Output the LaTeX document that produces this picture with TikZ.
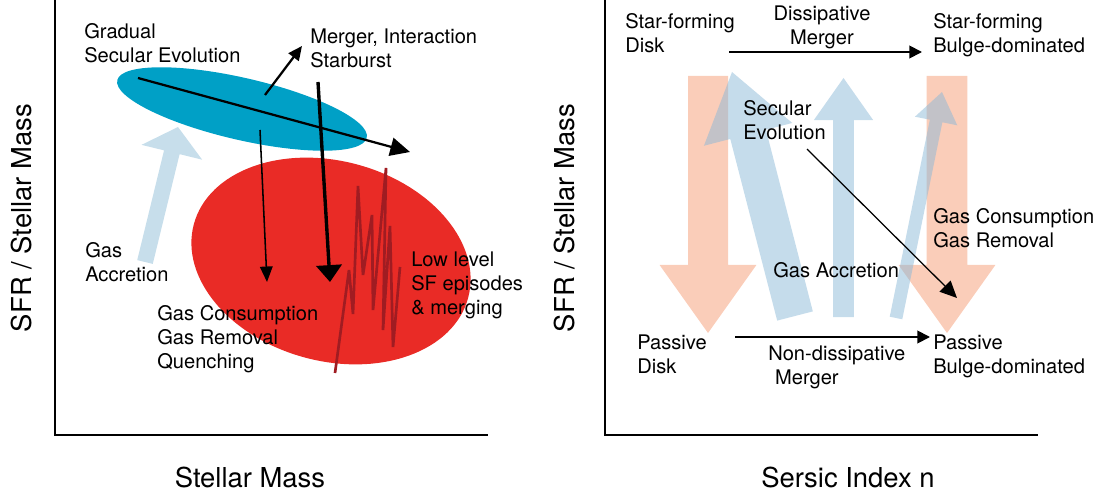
\documentclass[tikz,border=0pt]{standalone}
\usepackage{fontspec}
\setmainfont{TeX Gyre Heros}
\usetikzlibrary{calc}
\usetikzlibrary{arrows.meta}

\definecolor{diskblue}{RGB}{0,160,198}
\definecolor{passred}{RGB}{233,43,38}
\definecolor{burstred}{RGB}{160,28,34}
\definecolor{inflow}{RGB}{199,222,235}
\definecolor{fadeblue}{RGB}{140,185,215}
\definecolor{fadesalmon}{RGB}{250,205,185}

% broad arrow: style, tail, tip, half shaft, half head, head length
\newcommand{\fatarrow}[6]{%
  \coordinate (fa base) at ($(#3)!#6!(#2)$);
  \fill[#1] ($(#2)!#4!90:(#3)$) -- ($(fa base)!#4!90:(#3)$) -- ($(fa base)!#5!90:(#3)$)
    -- (#3) -- ($(fa base)!#5!-90:(#3)$) -- ($(fa base)!#4!-90:(#3)$)
    -- ($(#2)!#4!-90:(#3)$) -- cycle;
}

\begin{document}
\begin{tikzpicture} [x=0.025cm, y=-0.025cm,
          lbl/.style = {font=\fontsize{14.3}{17}\selectfont, align=left, inner sep=0pt, anchor=north west},
          axislbl/.style = {font=\fontsize{19.5}{23}\selectfont, inner sep=0pt},
          axis/.style = {line width=0.8pt},
          track/.style = {-{Triangle[length=14pt,width=13pt]}, line width=1.6pt},
          thin track/.style = {-{Triangle[length=11pt,width=9pt]}, line width=1.1pt},
          merge/.style = {-{Triangle[length=9pt,width=9pt]}, line width=1.3pt}
          ]
  \useasboundingbox (0,0) rectangle (1102,498);

  % left panel: SFR / M versus stellar mass
  \draw[axis] (55,0) -- (55,435) -- (488,435);
  \node[axislbl] (mass) at (250,478) {Stellar Mass};
  \node[axislbl, rotate=90] (ssfr left) at (22,218) {SFR / Stellar Mass};

  \coordinate (inflow tail) at (145,262);
  \coordinate (inflow tip) at (178,127);
  \fatarrow{inflow}{inflow tail}{inflow tip}{0.2cm}{0.78cm}{0.65cm}

  \fill[passred, rotate around={-15:(331,261)}] (331,261) ellipse [x radius=142, y radius=100];
  \fill[diskblue, rotate around={-13:(242,109)}] (242,109) ellipse [x radius=128, y radius=31];

  \draw[burstred, line width=1.9pt, line join=bevel]
    (335,373) -- (349,270) -- (353,314) -- (358,186) -- (363,275) -- (372,215)
    -- (373,310) -- (386,168) -- (383,330) -- (390,226) -- (393,347) -- (400,267);

  \coordinate (sec start) at (138,78);
  \coordinate (sec end) at (410,152);
  \coordinate (burst start) at (265,95);
  \coordinate (burst end) at (302,46);
  \coordinate (cons start) at (260,130);
  \coordinate (cons end) at (267,282);
  \coordinate (quench start) at (318,82);
  \coordinate (quench end) at (330,282);
  \draw[track] (sec start) -- (sec end);
  \draw[track, -{Triangle[length=10pt,width=9pt]}] (burst start) -- (burst end);
  \draw[thin track] (cons start) -- (cons end);
  \draw[track, line width=2.4pt, -{Triangle[length=12pt,width=18pt]}] (quench start) -- (quench end);

  \node[lbl] (gradual) at (84,23) {Gradual\\Secular Evolution};
  \node[lbl] (burst) at (310,29) {Merger, Interaction\\Starburst};
  \node[lbl] (accretion) at (85,242) {Gas\\Accretion};
  \node[lbl] (episodes) at (411,252) {Low level\\SF episodes\\\& merging};
  \node[lbl] (quench) at (157,305) {Gas Consumption\\Gas Removal\\Quenching};

  % right panel: SFR / M versus Sersic index
  \draw[axis] (605,0) -- (605,435) -- (1038,435);
  \node[axislbl] (sersic) at (848,478) {Sersic Index n};
  \node[axislbl, rotate=90] (ssfr right) at (565,218) {SFR / Stellar Mass};

  \coordinate (fade disk top) at (708,76);
  \coordinate (fade disk bot) at (708,333);
  \coordinate (fade bulge top) at (947,76);
  \coordinate (fade bulge bot) at (947,333);
  \fatarrow{fadesalmon}{fade disk top}{fade disk bot}{0.5cm}{1.21cm}{1.7cm}
  \fatarrow{fadesalmon}{fade bulge top}{fade bulge bot}{0.51cm}{1.21cm}{1.7cm}

  \coordinate (rise a tail) at (795,316);
  \coordinate (rise a tip) at (732,72);
  \coordinate (rise b tail) at (843.5,317);
  \coordinate (rise b tip) at (843.5,78);
  \coordinate (rise c tail) at (896,318);
  \coordinate (rise c tip) at (942,92);
  \fatarrow{fadeblue, opacity=0.5}{rise a tail}{rise a tip}{0.46cm}{1.14cm}{1.61cm}
  \fatarrow{fadeblue, opacity=0.5}{rise b tail}{rise b tip}{0.26cm}{0.74cm}{1.05cm}
  \fatarrow{fadeblue, opacity=0.5}{rise c tail}{rise c tip}{0.16cm}{0.54cm}{0.74cm}

  \node[lbl] (sf disk) at (625,13) {Star-forming\\Disk};
  \node[lbl, align=center, anchor=north] (diss) at (822,6) {Dissipative\\Merger};
  \node[lbl] (sf bulge) at (933,13) {Star-forming\\Bulge-dominated};
  \node[lbl] (secular) at (743,100) {Secular\\Evolution};
  \node[lbl] (removal) at (933,208) {Gas Consumption\\Gas Removal};
  \node[lbl] (gas acc) at (773,262) {Gas Accretion};
  \node[lbl] (pass disk) at (637,335) {Passive\\Disk};
  \node[lbl] (nondiss) at (768,346) {Non-dissipative\\\hspace{0.17cm}Merger};
  \node[lbl] (pass bulge) at (933,335) {Passive\\Bulge-dominated};

  \coordinate (wet start) at (729,52);
  \coordinate (wet end) at (922,52);
  \coordinate (dry start) at (735,337);
  \coordinate (dry end) at (930,337);
  \coordinate (fade start) at (807,149);
  \coordinate (fade end) at (957,298);
  \draw[merge] (wet start) -- (wet end);
  \draw[merge] (dry start) -- (dry end);
  \draw[-{Triangle[length=12pt,width=11pt]}, line width=0.9pt] (fade start) -- (fade end);
\end{tikzpicture}
\end{document}
